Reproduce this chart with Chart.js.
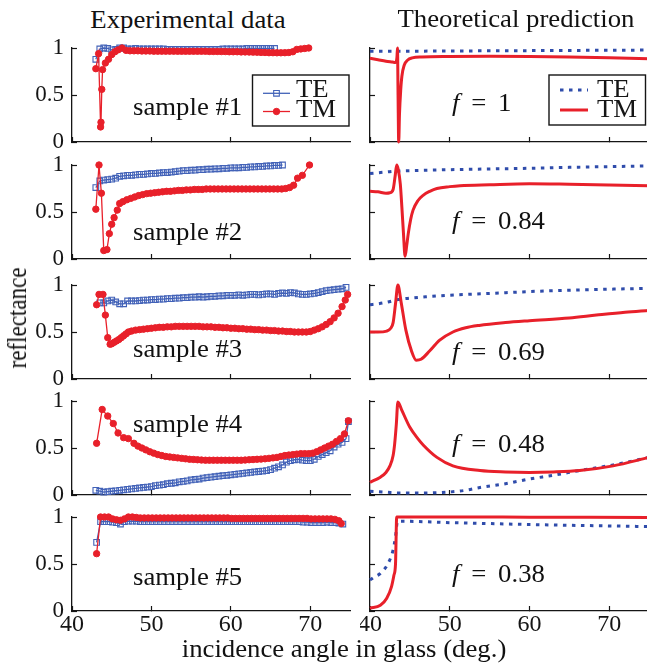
<!DOCTYPE html>
<html><head><meta charset="utf-8">
<script src="https://cdn.jsdelivr.net/npm/chart.js@4.4.1/dist/chart.umd.min.js"></script>
<style>
html,body{margin:0;padding:0;background:#fff;width:647px;height:666px;overflow:hidden;}
#fig{position:relative;width:647px;height:666px;overflow:hidden;font-family:"Liberation Serif","Times New Roman",serif;color:#111;}
canvas{position:absolute;}
.t{position:absolute;white-space:nowrap;line-height:1;}
</style></head><body><div id="fig"></div>
<script>
// ---------- tick labels / text ----------
const xTicks = [40, 50, 60, 70];
const yTicks = [0, 0.5, 1];
const colTitles = ['Experimental data', 'Theoretical prediction'];
const sampleLabels = ['sample #1', 'sample #2', 'sample #3', 'sample #4', 'sample #5'];
const fillFactors = ['1', '0.84', '0.69', '0.48', '0.38'];
const seriesNames = ['TE', 'TM'];
const yTitle = 'reflectance';
const xTitle = 'incidence angle in glass (deg.)';

// ---------- experimental data ----------
const s1TeAngle = [43.0,43.5,44.0,44.5,45.0,45.5,46.0,46.5,47.0,47.5,48.0,48.5,49.0,49.5,50.0,50.5,51.0,51.5,52.0,52.5,53.0,53.5,54.0,54.5,55.0,55.5,56.0,56.5,57.0,57.5,58.0,58.5,59.0,59.5,60.0,60.5,61.0,61.5,62.0,62.5,63.0,63.5,64.0,64.5,65.0,65.5];
const s1TeR = [0.88,0.99,1.00,0.995,0.98,0.985,1.00,1.00,0.99,0.99,0.995,0.99,0.99,0.99,0.99,0.99,0.99,0.99,0.985,0.985,0.985,0.985,0.985,0.985,0.985,0.985,0.985,0.985,0.985,0.985,0.985,0.985,0.99,0.99,0.99,0.99,0.99,0.99,0.995,0.995,0.995,0.995,0.995,0.995,0.995,0.995];
const s1TmAngle = [43.0,43.35,43.6,43.65,43.75,43.85,44.2,44.6,45.0,45.4,45.8,46.3,46.8,47.3,47.8,48.3,48.8,49.3,49.8,50.3,50.8,51.3,51.8,52.3,52.8,53.3,53.8,54.3,54.8,55.3,55.8,56.3,56.8,57.3,57.8,58.3,58.8,59.3,59.8,60.3,60.8,61.3,61.8,62.3,62.8,63.3,63.8,64.3,64.8,65.3,65.8,66.3,66.8,67.3,67.8,68.3,68.8,69.3,69.8];
const s1TmR = [0.78,0.94,0.16,0.21,0.56,0.77,0.84,0.88,0.93,0.96,0.98,1.00,0.975,0.97,0.97,0.97,0.968,0.968,0.968,0.966,0.966,0.966,0.966,0.966,0.966,0.965,0.965,0.965,0.965,0.965,0.965,0.965,0.965,0.963,0.963,0.963,0.962,0.962,0.96,0.96,0.96,0.958,0.958,0.957,0.956,0.955,0.953,0.952,0.95,0.95,0.949,0.949,0.95,0.952,0.96,0.985,0.99,0.995,1.00];

const s2TeAngle = [43.0,43.5,44.0,44.5,45.0,45.5,46.0,46.5,47.0,47.5,48.0,48.5,49.0,49.5,50.0,50.5,51.0,51.5,52.0,52.5,53.0,53.5,54.0,54.5,55.0,55.5,56.0,56.5,57.0,57.5,58.0,58.5,59.0,59.5,60.0,60.5,61.0,61.5,62.0,62.5,63.0,63.5,64.0,64.5,65.0,65.5,66.0,66.5];
const s2TeR = [0.76,0.83,0.84,0.845,0.85,0.86,0.88,0.885,0.89,0.89,0.895,0.90,0.90,0.905,0.91,0.91,0.915,0.92,0.92,0.925,0.93,0.935,0.94,0.94,0.945,0.945,0.95,0.95,0.955,0.955,0.96,0.96,0.965,0.965,0.97,0.97,0.97,0.975,0.975,0.98,0.98,0.985,0.985,0.99,0.99,0.995,0.995,1.00];
const s2TmAngle = [43.0,43.4,43.7,44.0,44.4,44.7,45.0,45.3,45.7,46.0,46.4,46.9,47.4,47.9,48.4,48.9,49.4,49.9,50.4,50.9,51.4,51.9,52.4,52.9,53.4,53.9,54.4,54.9,55.4,55.9,56.4,56.9,57.4,57.9,58.4,58.9,59.4,59.9,60.4,60.9,61.4,61.9,62.4,62.9,63.4,63.9,64.4,64.9,65.4,65.9,66.4,66.9,67.4,67.9,68.4,69.0,69.9];
const s2TmR = [0.53,1.00,0.70,0.09,0.10,0.27,0.37,0.44,0.52,0.59,0.61,0.63,0.645,0.66,0.675,0.685,0.695,0.70,0.705,0.71,0.715,0.72,0.72,0.725,0.73,0.73,0.735,0.735,0.74,0.74,0.74,0.745,0.745,0.745,0.745,0.745,0.745,0.745,0.745,0.745,0.745,0.745,0.745,0.745,0.745,0.745,0.745,0.745,0.745,0.745,0.745,0.75,0.76,0.785,0.86,0.89,1.00];

const s3TeAngle = [43.5,44.0,44.5,45.0,45.5,46.0,46.5,47.0,47.5,48.0,48.5,49.0,49.5,50.0,50.5,51.0,51.5,52.0,52.5,53.0,53.5,54.0,54.5,55.0,55.5,56.0,56.5,57.0,57.5,58.0,58.5,59.0,59.5,60.0,60.5,61.0,61.5,62.0,62.5,63.0,63.5,64.0,64.5,65.0,65.5,66.0,66.5,67.0,67.5,68.0,68.5,69.0,69.5,70.0,70.5,71.0,71.5,72.0,72.5,73.0,73.5,74.0,74.5];
const s3TeR = [0.81,0.81,0.83,0.84,0.82,0.80,0.80,0.83,0.83,0.83,0.835,0.84,0.84,0.845,0.845,0.85,0.85,0.855,0.855,0.86,0.86,0.865,0.865,0.87,0.87,0.875,0.87,0.875,0.88,0.88,0.885,0.885,0.89,0.89,0.89,0.895,0.89,0.895,0.90,0.90,0.895,0.90,0.905,0.905,0.90,0.91,0.915,0.91,0.92,0.915,0.905,0.90,0.90,0.905,0.91,0.92,0.93,0.94,0.945,0.95,0.955,0.96,0.975];
const s3TmAngle = [43.1,43.4,43.9,44.2,44.5,44.8,45.0,45.3,45.6,45.9,46.2,46.5,46.8,47.1,47.5,48.0,48.5,49.0,49.5,50.0,50.5,51.0,51.5,52.0,52.5,53.0,53.5,54.0,54.5,55.0,55.5,56.0,56.5,57.0,57.5,58.0,58.5,59.0,59.5,60.0,60.5,61.0,61.5,62.0,62.5,63.0,63.5,64.0,64.5,65.0,65.5,66.0,66.5,67.0,67.5,68.0,68.5,69.0,69.5,70.0,70.5,71.0,71.5,72.0,72.5,73.0,73.5,74.0,74.4,74.7];
const s3TmR = [0.79,0.90,0.90,0.68,0.44,0.37,0.375,0.39,0.405,0.42,0.44,0.46,0.48,0.50,0.51,0.52,0.525,0.53,0.535,0.54,0.545,0.55,0.55,0.555,0.555,0.56,0.56,0.56,0.56,0.56,0.56,0.56,0.555,0.555,0.555,0.55,0.55,0.545,0.545,0.54,0.54,0.535,0.535,0.53,0.53,0.525,0.525,0.52,0.52,0.515,0.515,0.51,0.51,0.505,0.505,0.50,0.50,0.50,0.50,0.505,0.52,0.535,0.555,0.58,0.61,0.65,0.70,0.77,0.84,0.90];

const s4TeAngle = [43.0,43.5,44.0,44.5,45.0,45.5,46.0,46.5,47.0,47.5,48.0,48.5,49.0,49.5,50.0,50.5,51.0,51.5,52.0,52.5,53.0,53.5,54.0,54.5,55.0,55.5,56.0,56.5,57.0,57.5,58.0,58.5,59.0,59.5,60.0,60.5,61.0,61.5,62.0,62.5,63.0,63.5,64.0,64.5,65.0,65.5,66.0,66.5,67.0,67.5,68.0,68.5,69.0,69.5,70.0,70.5,71.0,71.5,72.0,72.5,73.0,73.5,74.0,74.5,74.8];
const s4TeR = [0.05,0.04,0.03,0.035,0.04,0.045,0.05,0.055,0.06,0.065,0.07,0.075,0.08,0.085,0.09,0.10,0.105,0.11,0.12,0.125,0.13,0.14,0.145,0.15,0.16,0.165,0.17,0.18,0.185,0.19,0.195,0.20,0.205,0.21,0.215,0.22,0.225,0.23,0.235,0.24,0.245,0.25,0.255,0.26,0.27,0.285,0.30,0.32,0.35,0.365,0.375,0.38,0.37,0.365,0.365,0.38,0.41,0.43,0.45,0.47,0.51,0.54,0.56,0.60,0.78];
const s4TmAngle = [43.1,43.8,44.5,45.2,45.8,46.5,47.1,47.8,48.3,48.8,49.3,49.8,50.3,50.8,51.3,51.8,52.3,52.8,53.3,53.8,54.3,54.8,55.3,55.8,56.3,56.8,57.3,57.8,58.3,58.8,59.3,59.8,60.3,60.8,61.3,61.8,62.3,62.8,63.3,63.8,64.3,64.8,65.3,65.8,66.3,66.8,67.3,67.8,68.3,68.8,69.3,69.8,70.3,70.8,71.3,71.8,72.3,72.8,73.3,73.8,74.3,74.8];
const s4TmR = [0.55,0.91,0.84,0.76,0.66,0.61,0.60,0.55,0.52,0.50,0.48,0.46,0.445,0.43,0.42,0.41,0.405,0.40,0.395,0.39,0.385,0.38,0.378,0.375,0.372,0.37,0.37,0.37,0.37,0.37,0.37,0.37,0.37,0.37,0.37,0.372,0.375,0.377,0.38,0.382,0.385,0.39,0.395,0.40,0.41,0.42,0.425,0.43,0.435,0.44,0.44,0.44,0.445,0.46,0.48,0.50,0.52,0.54,0.57,0.60,0.65,0.79];

const s5TeAngle = [43.1,43.6,44.1,44.6,45.1,45.6,46.1,46.6,47.1,47.6,48.1,48.6,49.1,49.6,50.1,50.6,51.1,51.6,52.1,52.6,53.1,53.6,54.1,54.6,55.1,55.6,56.1,56.6,57.1,57.6,58.1,58.6,59.1,59.6,60.1,60.6,61.1,61.6,62.1,62.6,63.1,63.6,64.1,64.6,65.1,65.6,66.1,66.6,67.1,67.6,68.1,68.6,69.1,69.6,70.1,70.6,71.1,71.6,72.1,72.6,73.1,73.6,74.1];
const s5TeR = [0.73,0.95,0.95,0.95,0.945,0.94,0.925,0.95,0.955,0.955,0.955,0.95,0.95,0.95,0.95,0.95,0.95,0.95,0.95,0.95,0.95,0.95,0.95,0.95,0.95,0.95,0.95,0.95,0.95,0.95,0.95,0.95,0.95,0.95,0.95,0.95,0.95,0.95,0.95,0.95,0.95,0.95,0.95,0.95,0.95,0.95,0.95,0.95,0.95,0.95,0.95,0.95,0.945,0.945,0.94,0.94,0.94,0.94,0.945,0.94,0.94,0.935,0.925];
const s5TmAngle = [43.1,43.6,44.1,44.6,45.1,45.6,46.1,46.6,47.1,47.6,48.1,48.6,49.1,49.6,50.1,50.6,51.1,51.6,52.1,52.6,53.1,53.6,54.1,54.6,55.1,55.6,56.1,56.6,57.1,57.6,58.1,58.6,59.1,59.6,60.1,60.6,61.1,61.6,62.1,62.6,63.1,63.6,64.1,64.6,65.1,65.6,66.1,66.6,67.1,67.6,68.1,68.6,69.1,69.6,70.1,70.6,71.1,71.6,72.1,72.6,73.1,73.6,73.9];
const s5TmR = [0.61,1.00,1.00,1.00,0.98,0.97,0.965,0.98,1.00,1.00,0.995,0.99,0.99,0.99,0.99,0.99,0.99,0.99,0.99,0.99,0.99,0.99,0.99,0.99,0.99,0.99,0.99,0.99,0.99,0.99,0.99,0.99,0.99,0.99,0.985,0.985,0.985,0.985,0.985,0.985,0.985,0.985,0.985,0.985,0.985,0.985,0.985,0.985,0.985,0.985,0.985,0.985,0.985,0.985,0.98,0.98,0.98,0.98,0.98,0.98,0.975,0.96,0.93];

// ---------- theoretical curves ----------
const t1TeAngle = [40, 45, 50, 55, 60, 65, 70, 75];
const t1TeR = [0.965, 0.966, 0.968, 0.970, 0.972, 0.974, 0.976, 0.978];
const t1TmAngle = [40, 41, 42, 42.8, 43.2, 43.38, 43.45, 43.52, 43.6, 43.7, 43.85, 44.0, 44.3, 44.7, 45.3, 46.5, 50, 55, 60, 65, 70, 75];
const t1TmR = [0.89, 0.875, 0.86, 0.85, 0.845, 0.90, 1.00, 0.50, 0.00, 0.30, 0.55, 0.70, 0.82, 0.87, 0.895, 0.905, 0.91, 0.912, 0.91, 0.905, 0.895, 0.885];

const t2TeAngle = [40, 42, 43.3, 45, 50, 55, 60, 65, 70, 75];
const t2TeR = [0.91, 0.925, 0.935, 0.94, 0.95, 0.958, 0.965, 0.975, 0.983, 0.99];
const t2TmAngle = [40, 41, 42, 42.5, 42.9, 43.15, 43.35, 43.55, 43.8, 44.0, 44.2, 44.4, 44.6, 44.8, 45.1, 45.4, 46, 46.7, 47.5, 48.4, 50, 51.3, 55, 60, 65, 70, 75];
const t2TmR = [0.72, 0.715, 0.70, 0.705, 0.74, 0.88, 1.00, 0.95, 0.80, 0.55, 0.27, 0.03, 0.14, 0.27, 0.42, 0.52, 0.62, 0.68, 0.72, 0.75, 0.77, 0.78, 0.79, 0.80, 0.795, 0.788, 0.78];

const t3TeAngle = [40, 41, 42, 43, 43.5, 45, 47, 49.6, 55, 60, 65, 70, 75];
const t3TeR = [0.79, 0.80, 0.815, 0.835, 0.845, 0.86, 0.875, 0.89, 0.91, 0.93, 0.945, 0.955, 0.965];
const t3TmAngle = [40, 41, 42.1, 42.6, 42.9, 43.2, 43.5, 43.9, 44.5, 45.2, 45.8, 46.4, 47.5, 48.7, 50.4, 52, 53.7, 57, 60, 65, 68.4, 72, 75];
const t3TmR = [0.50, 0.50, 0.51, 0.54, 0.60, 0.80, 1.00, 0.82, 0.52, 0.30, 0.20, 0.21, 0.30, 0.41, 0.50, 0.545, 0.57, 0.60, 0.62, 0.65, 0.68, 0.71, 0.73];

const t4TeAngle = [40, 42, 43.5, 46, 49.6, 52, 53.8, 57, 60, 63, 66.3, 70.5, 75];
const t4TeR = [0.04, 0.03, 0.02, 0.02, 0.03, 0.05, 0.08, 0.12, 0.17, 0.21, 0.26, 0.32, 0.40];
const t4TmAngle = [40, 41.3, 42, 42.5, 42.9, 43.1, 43.3, 43.5, 44, 45, 46, 46.7, 48.4, 50.4, 53.8, 57, 60, 63, 66.3, 70.5, 75];
const t4TmR = [0.135, 0.19, 0.24, 0.31, 0.42, 0.55, 0.75, 0.99, 0.90, 0.72, 0.60, 0.53, 0.40, 0.31, 0.26, 0.245, 0.24, 0.245, 0.26, 0.31, 0.40];

const t5TeAngle = [40, 40.5, 41.3, 42.3, 42.9, 43.2, 43.45, 44, 50, 55, 60, 65, 70, 75];
const t5TeR = [0.33, 0.36, 0.40, 0.51, 0.65, 0.79, 0.955, 0.955, 0.94, 0.93, 0.92, 0.912, 0.905, 0.898];
const t5TmAngle = [40, 41.3, 42.1, 42.7, 43.0, 43.2, 43.35, 50, 60, 75];
const t5TmR = [0.03, 0.06, 0.135, 0.26, 0.38, 0.50, 1.00, 1.00, 0.998, 0.995];

// ---------- layout & style ----------
const FONT = '"Liberation Serif", "Times New Roman", serif';
const BLUE = '#4262b8';
const DOTBLUE = '#2f4cab';
const RED = '#e8202a';
const INK = '#151515';
const ROW_TOP = [48, 165, 285, 401, 517];
const PLOT_H = 94;
const TEXT_SX = 1.07;

Chart.defaults.font.family = FONT;
Chart.defaults.color = INK;

const fig = document.getElementById('fig');

function pairs(xs, ys) { return xs.map((x, i) => ({ x: x, y: ys[i] })); }

const legendBoxPlugin = {
  id: 'legendBox',
  afterDatasetsDraw(chart, args, o) {
    if (!o || !o.show) return;
    const ctx = chart.ctx;
    const bx = o.box[0] - o.ox, by = o.box[1] - o.oy;
    ctx.save();
    ctx.fillStyle = '#fff';
    ctx.fillRect(bx, by, o.box[2], o.box[3]);
    ctx.strokeStyle = INK; ctx.lineWidth = 1.4;
    ctx.strokeRect(bx, by, o.box[2], o.box[3]);
    chart.data.datasets.forEach((ds, i) => {
      const y = o.lineY[i] - o.oy;
      const x1 = o.lineX[0] - o.ox, x2 = o.lineX[1] - o.ox;
      ctx.beginPath();
      ctx.setLineDash(ds.borderDash || []);
      ctx.strokeStyle = ds.borderColor; ctx.lineWidth = ds.borderWidth;
      ctx.moveTo(x1, y); ctx.lineTo(x2, y); ctx.stroke();
      ctx.setLineDash([]);
      if (ds.pointRadius > 0) {
        ctx.fillStyle = ds.pointBackgroundColor; ctx.strokeStyle = ds.pointBorderColor;
        ctx.lineWidth = ds.pointBorderWidth;
        Chart.helpers.drawPoint(ctx, { pointStyle: ds.pointStyle, radius: ds.pointRadius, borderWidth: ds.pointBorderWidth, rotation: 0 }, (x1 + x2) / 2, y);
      }
      ctx.fillStyle = INK;
      ctx.font = '25px ' + FONT;
      ctx.textBaseline = 'alphabetic'; ctx.textAlign = 'left';
      ctx.save();
      ctx.translate(o.textX - o.ox, o.textBase[i] - o.oy);
      ctx.scale(TEXT_SX, 1);
      ctx.fillText(ds.label, 0, 0);
      ctx.restore();
    });
    ctx.restore();
  }
};

function makePanel(col, row, datasets, legend) {
  const isLeft = col === 0;
  const last = row === 4;
  const padT = 12, padR = isLeft ? 12 : 10;
  const yW = isLeft ? 72 : 10;
  const xH = last ? 44 : 12;
  const cl = isLeft ? 0 : 360;
  const plotW = isLeft ? 278 : 279;
  const cw = yW + plotW + padR;
  const ch = padT + PLOT_H + xH;
  const ct = ROW_TOP[row] - padT;
  const cv = document.createElement('canvas');
  cv.width = cw; cv.height = ch;
  cv.style.left = cl + 'px'; cv.style.top = ct + 'px';
  cv.style.width = cw + 'px'; cv.style.height = ch + 'px';
  fig.appendChild(cv);
  const lg = legend ? Object.assign({ show: true, ox: cl, oy: ct }, legend) : { show: false };
  new Chart(cv, {
    type: 'scatter',
    data: { datasets: datasets },
    options: {
      responsive: false, animation: false, devicePixelRatio: 1,
      layout: { padding: { top: padT, right: padR, left: 0, bottom: 0 } },
      plugins: { legend: { display: false }, tooltip: { enabled: false }, legendBox: lg },
      events: [],
      scales: {
        x: {
          type: 'linear', min: 40, max: 75, position: 'bottom',
          afterBuildTicks: s => { s.ticks = xTicks.map(v => ({ value: v })); },
          afterFit: s => { s.height = xH; s.paddingLeft = 0; s.paddingRight = 0; },
          grid: { display: true, drawOnChartArea: false, drawTicks: true, tickLength: -5, tickWidth: 1.2, tickColor: INK },
          border: { display: true, color: INK, width: 1.3 },
          ticks: { display: last, padding: 4, font: { size: 24, family: FONT }, color: INK, maxRotation: 0, callback: v => String(v) }
        },
        y: {
          type: 'linear', min: 0, max: 1, position: 'left',
          afterBuildTicks: s => { s.ticks = yTicks.map(v => ({ value: v })); },
          afterFit: s => { s.width = yW; s.paddingTop = 0; s.paddingBottom = 0; },
          grid: { display: true, drawOnChartArea: false, drawTicks: true, tickLength: -5, tickWidth: 1.2, tickColor: INK },
          border: { display: true, color: INK, width: 1.3 },
          ticks: { display: isLeft, padding: 13, font: { size: 23, family: FONT }, color: INK, callback: v => String(v) }
        }
      }
    },
    plugins: [legendBoxPlugin]
  });
}

function expSets(teA, teR, tmA, tmR) {
  return [
    { label: seriesNames[0], data: pairs(teA, teR), showLine: true, borderColor: BLUE, backgroundColor: 'rgba(0,0,0,0)', borderWidth: 1.3,
      pointStyle: 'rect', pointRadius: 4, pointBorderWidth: 1.1, pointBorderColor: BLUE, pointBackgroundColor: 'rgba(255,255,255,0)', tension: 0, clip: false, order: 1 },
    { label: seriesNames[1], data: pairs(tmA, tmR), showLine: true, borderColor: RED, backgroundColor: RED, borderWidth: 1.3,
      pointStyle: 'circle', pointRadius: 3.2, pointBorderWidth: 1, pointBorderColor: RED, pointBackgroundColor: RED, tension: 0, clip: false, order: 0 }
  ];
}
function theorySets(teA, teR, tmA, tmR) {
  return [
    { label: seriesNames[0], data: pairs(teA, teR), showLine: true, borderColor: DOTBLUE, borderWidth: 3, borderDash: [3.5, 5.5],
      pointRadius: 0, cubicInterpolationMode: 'monotone', clip: false, order: 1 },
    { label: seriesNames[1], data: pairs(tmA, tmR), showLine: true, borderColor: RED, borderWidth: 3,
      pointRadius: 0, cubicInterpolationMode: 'monotone', clip: false, order: 0 }
  ];
}

const expData = [
  [s1TeAngle, s1TeR, s1TmAngle, s1TmR],
  [s2TeAngle, s2TeR, s2TmAngle, s2TmR],
  [s3TeAngle, s3TeR, s3TmAngle, s3TmR],
  [s4TeAngle, s4TeR, s4TmAngle, s4TmR],
  [s5TeAngle, s5TeR, s5TmAngle, s5TmR]
];
const thData = [
  [t1TeAngle, t1TeR, t1TmAngle, t1TmR],
  [t2TeAngle, t2TeR, t2TmAngle, t2TmR],
  [t3TeAngle, t3TeR, t3TmAngle, t3TmR],
  [t4TeAngle, t4TeR, t4TmAngle, t4TmR],
  [t5TeAngle, t5TeR, t5TmAngle, t5TmR]
];

for (let r = 0; r < 5; r++) {
  makePanel(0, r, expSets(...expData[r]), r === 0 ? { box: [252.5, 75, 96.5, 51], lineX: [263, 290], lineY: [93.3, 111.5], textX: 296, textBase: [97, 117] } : null);
  makePanel(1, r, theorySets(...thData[r]), r === 0 ? { box: [549, 75, 96.5, 50], lineX: [560, 588], lineY: [90, 110], textX: 597, textBase: [97, 117] } : null);
}

// ---------- HTML text ----------
function addText(html, x, base, size, align, extra) {
  const d = document.createElement('div');
  d.className = 't';
  d.innerHTML = html;
  d.style.fontSize = size + 'px';
  d.style.left = x + 'px';
  d.style.top = (base - 0.8375 * size) + 'px';
  if (align === 'center') { d.style.transform = 'translateX(-50%) scaleX(' + TEXT_SX + ')'; d.style.transformOrigin = '50% 50%'; }
  else { d.style.transform = 'scaleX(' + TEXT_SX + ')'; d.style.transformOrigin = '0 50%'; }
  if (extra) Object.assign(d.style, extra);
  fig.appendChild(d);
  return d;
}
addText(colTitles[0], 188, 28, 25, 'center');
addText(colTitles[1], 516, 27, 25, 'center');
addText(xTitle, 344, 657, 25, 'center');
const sampleBase = [115, 240, 357, 432, 585];
const fBase = [111, 229, 360, 452, 582];
for (let r = 0; r < 5; r++) {
  addText(sampleLabels[r], 133, sampleBase[r], 25, 'left');
  addText('<i>f</i><span style="margin:0 11px">=</span>' + fillFactors[r], 452, fBase[r], 25, 'left');
}
const yl = document.createElement('div');
yl.className = 't';
yl.textContent = yTitle;
yl.style.fontSize = '23px';
yl.style.left = '17px'; yl.style.top = '318px';
yl.style.transform = 'translate(-50%,-50%) rotate(-90deg) scaleY(1.2)';
fig.appendChild(yl);
</script></body></html>
